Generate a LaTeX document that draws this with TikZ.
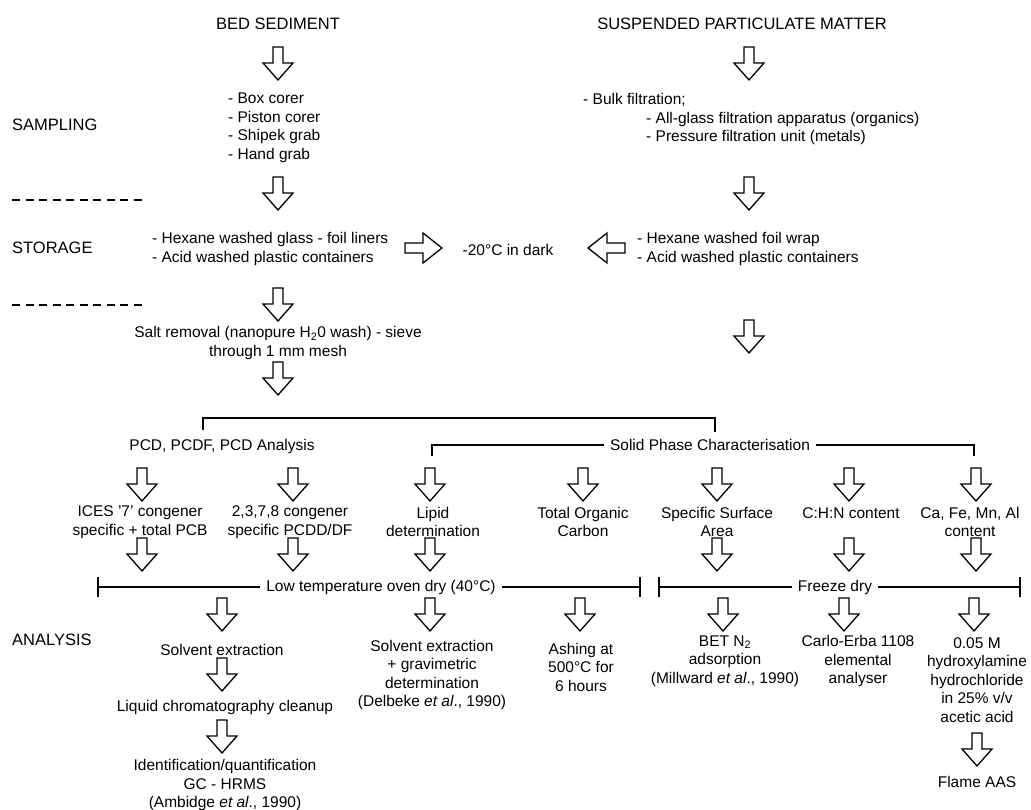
\documentclass[tikz,border=0pt]{standalone}
\usepackage{fontspec}
\setmainfont{Liberation Sans}
\usetikzlibrary{calc}
\tikzset{
  txt/.style={inner sep=0pt, align=center, font=\fontsize{15.5}{18.5}\selectfont},
  ltxt/.style={txt, align=left},
  title/.style={inner sep=0pt, font=\fontsize{16.5}{19}\selectfont},
  arrowline/.style={draw=black, line width=1.3pt, fill=white, line join=miter},
  brk/.style={line width=1.4pt},
  sepline/.style={line width=1.3pt, dash pattern=on 8pt off 5.5pt},
  darr/.pic={\path[arrowline] (-5,0) -- (5,0) -- (5,16) -- (15,16) -- (0,33) -- (-15,16) -- (-5,16) -- cycle;},
  rarr/.pic={\path[arrowline] (0,-5) -- (18,-5) -- (18,-15) -- (37,0) -- (18,15) -- (18,5) -- (0,5) -- cycle;},
}
\begin{document}
\begin{tikzpicture}[x=1pt,y=-1pt]
\useasboundingbox[fill=white] (0,0) rectangle (1031,810);

% headings and stage labels
\node[title] (bed) at (278,24) {BED SEDIMENT};
\node[title] (spm) at (742,24) {SUSPENDED PARTICULATE MATTER};
\node[title, anchor=west] (samp) at (12,125) {SAMPLING};
\node[title, anchor=west] (stor) at (12,248) {STORAGE};
\node[title, anchor=west] (anal) at (12,640) {ANALYSIS};

% separators
\draw[sepline] (12,200) -- (145,200);
\draw[sepline] (12,305) -- (145,305);

% sampling
\node[ltxt, anchor=west] (bedsamp) at (228,128) {- Box corer\\- Piston corer\\- Shipek grab\\- Hand grab};
\node[ltxt, anchor=west] (spmsamp) at (583,119) {- Bulk filtration;\\\hspace*{63pt}- All-glass filtration apparatus (organics)\\\hspace*{63pt}- Pressure filtration unit (metals)};

% storage
\node[ltxt, anchor=west] (bedstor) at (152,249) {- Hexane washed glass - foil liners\\- Acid washed plastic containers};
\node[txt] (dark) at (508,250) {-20°C in dark};
\node[ltxt, anchor=west] (spmstor) at (637,249) {- Hexane washed foil wrap\\- Acid washed plastic containers};

% salt removal
\node[txt] (salt) at (278,343) {Salt removal (nanopure H\textsubscript{2}0 wash) - sieve\\through 1 mm mesh};

% branch headings
\node[txt] (pcd) at (222,446) {PCD, PCDF, PCD Analysis};
\node[txt, fill=white, inner xsep=6pt] (solid) at (710,445) {Solid Phase Characterisation};

% columns
\node[txt] (c1) at (140,522) {ICES '7' congener\\specific + total PCB};
\node[txt] (c2) at (290,522) {2,3,7,8 congener\\specific PCDD/DF};
\node[txt] (c3) at (433,522) {Lipid\\determination};
\node[txt] (c4) at (583,522) {Total Organic\\Carbon};
\node[txt] (c5) at (717,522) {Specific Surface\\Area};
\node[txt] (c6) at (851,513) {C:H:N content};
\node[txt] (c7) at (970,522) {Ca, Fe, Mn, Al\\content};

% drying brackets
\node[txt, fill=white, inner xsep=6pt] (lowt) at (381,587) {Low temperature oven dry (40°C)};
\node[txt, fill=white, inner xsep=6pt] (frz) at (835,587) {Freeze dry};
\coordinate (l1) at (98,587);
\coordinate (l2) at (640,587);
\coordinate (f1) at (659,587);
\coordinate (f2) at (1020,587);
\draw[brk] (l1) -- (lowt.west) (lowt.east) -- (l2);
\draw[brk] ($(l1)+(0,-10)$) -- ($(l1)+(0,10)$);
\draw[brk] ($(l2)+(0,-10)$) -- ($(l2)+(0,10)$);
\draw[brk] (f1) -- (frz.west) (frz.east) -- (f2);
\draw[brk] ($(f1)+(0,-10)$) -- ($(f1)+(0,10)$);
\draw[brk] ($(f2)+(0,-10)$) -- ($(f2)+(0,10)$);

% top bracket and solid phase bracket
\draw[brk] (203,430) -- (203,418) -- (715,418) -- (715,432);
\draw[brk] (432,456) -- (432,445) -- (solid.west);
\draw[brk] (solid.east) -- (974,445) -- (974,456);

% analysis texts
\node[txt] (se1) at (222,650) {Solvent extraction};
\node[txt] (lc) at (225,707) {Liquid chromatography cleanup};
\node[txt] (idq) at (225,785) {Identification/quantification\\GC - HRMS\\(Ambidge \textit{et al}., 1990)};
\node[txt] (se2) at (432,675) {Solvent extraction\\+ gravimetric\\determination\\(Delbeke \textit{et al}., 1990)};
\node[txt] (ash) at (581,667) {Ashing at\\500°C for\\6 hours};
\node[txt] (bet) at (725,661) {BET N\textsubscript{2}\\adsorption\\(Millward \textit{et al}., 1990)};
\node[txt] (carlo) at (858,661) {Carlo-Erba 1108\\elemental\\analyser};
\node[txt] (hyd) at (977,680) {0.05 M\\hydroxylamine\\hydrochloride\\in 25\% v/v\\acetic acid};
\node[txt] (flame) at (977,782) {Flame AAS};

% block arrows
\pic at (278,47) {darr};
\pic at (749,47) {darr};
\pic at (278,177) {darr};
\pic at (749,177) {darr};
\pic at (278,288) {darr};
\pic at (749,320) {darr};
\pic at (278,362) {darr};
\pic at (405,248) {rarr};
\pic[rotate=180] at (625,248) {rarr};
\foreach \x in {142,293,430,583,717,849,976} {\pic at (\x,468) {darr};}
\foreach \x in {142,293,430,717,849,976} {\pic at (\x,538) {darr};}
\foreach \x in {222,430,580,723,844,974} {\pic at (\x,598) {darr};}
\pic at (222,658) {darr};
\pic at (222,720) {darr};
\pic at (977,733) {darr};
\end{tikzpicture}
\end{document}
